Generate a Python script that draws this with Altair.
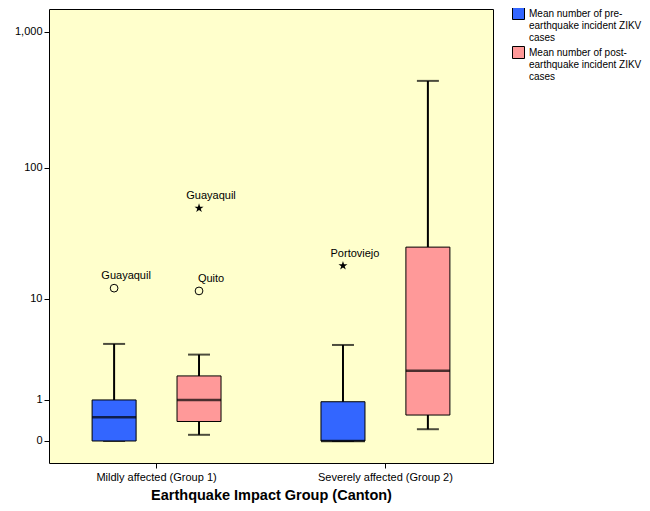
import altair as alt
import pandas as pd

groups = ["Mildly affected (Group 1)", "Severely affected (Group 2)"]
series = [
    "Mean number of pre-earthquake incident ZIKV cases",
    "Mean number of post-earthquake incident ZIKV cases",
]
legend_lines = [
    ["Mean number of pre-", "earthquake incident ZIKV", "cases"],
    ["Mean number of post-", "earthquake incident ZIKV", "cases"],
]
colors = ["#3366FF", "#FF9999"]

box_group = [groups[0], groups[0], groups[1], groups[1]]
box_series = [series[0], series[1], series[0], series[1]]
whisker_low = [0.0, 0.11, 0.0, 0.22]
q1 = [0.0, 0.39, 0.0, 0.55]
median = [0.49, 1.0, 0.0, 2.28]
q3 = [1.0, 2.0, 0.94, 25.4]
whisker_high = [4.15, 3.3, 4.06, 436]

out_group = [groups[0], groups[0], groups[0], groups[1]]
out_series = [series[0], series[1], series[1], series[0]]
out_value = [12.2, 11.6, 50, 18.3]
out_kind = ["circle", "circle", "star", "star"]
out_label = ["Guayaquil", "Quito", "Guayaquil", "Portoviejo"]

y_ticks = [0, 1, 10, 100, 1000]

box_df = pd.DataFrame(dict(group=box_group, series=box_series, lo=whisker_low,
                           q1=q1, med=median, q3=q3, hi=whisker_high))
out_df = pd.DataFrame(dict(group=out_group, series=out_series, value=out_value,
                           kind=out_kind, label=out_label))

FONT = "Liberation Sans"

x = alt.X("group:N", sort=groups,
          scale=alt.Scale(paddingInner=0.2, paddingOuter=0.07),
          axis=alt.Axis(title="Earthquake Impact Group (Canton)", labelAngle=0,
                        domain=False, tickColor="black", tickSize=5,
                        labelFont=FONT, labelFontSize=11, labelColor="black",
                        labelPadding=3, titleFont=FONT, titleFontSize=14.5,
                        titleFontWeight="bold", titleColor="black", titlePadding=6))
xo = alt.XOffset("series:N", sort=series,
                 scale=alt.Scale(paddingInner=0, paddingOuter=0.078))
yscale = alt.Scale(type="symlog", constant=1, domain=[-0.45, 1470], nice=False, zero=False)
yaxis = alt.Axis(title=None, values=y_ticks, labelExpr="format(datum.value, ',')",
                 domain=False, grid=False,
                 tickColor="black", tickSize=5, labelFont=FONT, labelFontSize=11,
                 labelColor="black", labelPadding=2)

base = alt.Chart(box_df)

whisk = base.mark_rule(color="black", strokeWidth=2).encode(
    x=x, xOffset=xo, y=alt.Y("lo:Q", scale=yscale, axis=yaxis), y2="hi:Q")
cap_lo = base.mark_tick(color="black", thickness=2, size=22).encode(
    x=x, xOffset=xo, y=alt.Y("lo:Q", scale=yscale))
cap_hi = base.mark_tick(color="black", thickness=2, size=22).encode(
    x=x, xOffset=xo, y=alt.Y("hi:Q", scale=yscale))

label_expr = ("datum.label == '" + series[0] + "' ? " + str(legend_lines[0]) +
              " : " + str(legend_lines[1]))
box = base.mark_bar(stroke="black", strokeWidth=1, size=44).encode(
    x=x, xOffset=xo,
    y=alt.Y("q1:Q", scale=yscale), y2="q3:Q",
    color=alt.Color("series:N", sort=series,
                    scale=alt.Scale(domain=series, range=colors),
                    legend=alt.Legend(title=None, orient="none", legendX=463, legendY=-2,
                                      symbolType="square", symbolSize=144,
                                      symbolStrokeColor="black", symbolStrokeWidth=1,
                                      labelFont=FONT, labelFontSize=10, labelColor="black",
                                      labelLimit=0, labelOffset=4, rowPadding=1,
                                      labelExpr=label_expr)))
med = base.mark_tick(color="black", thickness=2.5, size=44).encode(
    x=x, xOffset=xo, y=alt.Y("med:Q", scale=yscale))

star_path = ("M0,-1L0.2245,-0.309L0.951,-0.309L0.363,0.118L0.588,0.809L0,0.382"
             "L-0.588,0.809L-0.363,0.118L-0.951,-0.309L-0.2245,-0.309Z")

obase = alt.Chart(out_df)
circles = obase.transform_filter("datum.kind == 'circle'").mark_point(
    shape="circle", filled=False, color="black", strokeWidth=1, size=60, opacity=1).encode(
    x=x, xOffset=xo, y=alt.Y("value:Q", scale=yscale))
stars = obase.transform_filter("datum.kind == 'star'").mark_point(
    shape=star_path, filled=True, color="black", size=90, opacity=1).encode(
    x=x, xOffset=xo, y=alt.Y("value:Q", scale=yscale))
labels = obase.mark_text(font=FONT, fontSize=11, color="black", dx=12, dy=-12,
                         align="center").encode(
    x=x, xOffset=xo, y=alt.Y("value:Q", scale=yscale), text="label:N")

chart = alt.layer(whisk, cap_lo, cap_hi, box, med, circles, stars, labels).properties(
    width=444, height=454,
    autosize=alt.AutoSizeParams(type="none"),
    padding={"left": 41, "top": 1, "right": 149, "bottom": 40},
    background="white",
).configure_view(fill="#FFFFCC", stroke="black", strokeWidth=1)

chart.save("out.html", embed_options={"renderer": "svg", "actions": False})
